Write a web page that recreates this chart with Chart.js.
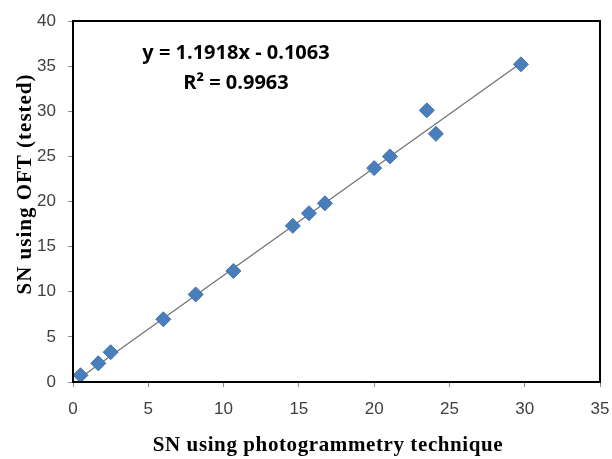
<!DOCTYPE html>
<html>
<head>
<meta charset="utf-8">
<script src="https://cdn.jsdelivr.net/npm/chart.js@4/dist/chart.umd.min.js"></script>
<style>
  html, body { margin: 0; padding: 0; background: #fff; }
  #wrap { width: 612px; height: 459px; }
</style>
</head>
<body>
<div id="wrap"><canvas id="chartCanvas" width="612" height="459"></canvas></div>
<script>
// values
const photogrammetrySN = [0.5, 1.68, 2.5, 6.0, 8.15, 10.65, 14.6, 15.67, 16.73, 20.0, 21.05, 23.5, 24.1, 29.75];
const oftSN = [0.75, 2.07, 3.3, 6.95, 9.7, 12.3, 17.3, 18.7, 19.8, 23.7, 25.0, 30.1, 27.5, 35.2];
// trendline ends, as drawn in the picture
const trendX = [0.5, 29.75];
const trendY = [0.49, 35.35];
const equationLines = ['y = 1.1918x - 0.1063', 'R\u00b2 = 0.9963'];
const xTitle = 'SN using photogrammetry technique';
const yTitle = 'SN using OFT (tested)';
const xTicks = [0, 5, 10, 15, 20, 25, 30, 35];
const yTicks = [0, 5, 10, 15, 20, 25, 30, 35, 40];

const points = photogrammetrySN.map((x, i) => ({ x: x, y: oftSN[i] }));
const trend = trendX.map((x, i) => ({ x: x, y: trendY[i] }));

const tickFont = { family: '"Liberation Sans Narrow", "Liberation Sans", sans-serif', size: 17 };

const framePlugin = {
    id: 'frame',
    afterDraw(chart) {
        const a = chart.chartArea;
        const c = chart.ctx;
        c.save();
        c.strokeStyle = '#000';
        c.lineWidth = 2;
        c.strokeRect(a.left, a.top, a.right - a.left, a.bottom - a.top);

        // equation label
        c.fillStyle = '#000';
        c.font = 'bold 20px "Open Sans", sans-serif';
        c.textAlign = 'center';
        c.textBaseline = 'middle';
        c.fillText(equationLines[0], 236, 53);
        c.fillText(equationLines[1], 236, 83);

        // axis titles
        c.font = 'bold 21px "Liberation Serif", serif';
        c.letterSpacing = '0.6px';
        c.fillText(xTitle, 328, 446);
        c.translate(26, 184);
        c.rotate(-Math.PI / 2);
        c.letterSpacing = '1px';
        c.fillText(yTitle, 0, 0);
        c.restore();
    }
};

const ctx = document.getElementById('chartCanvas').getContext('2d');
const chart = new Chart(ctx, {
    type: 'scatter',
    data: {
        datasets: [{
            label: 'trend',
            data: trend,
            showLine: true,
            borderColor: '#707070',
            borderWidth: 1.2,
            pointRadius: 0,
            order: 2
        }, {
            label: 'SN',
            data: points,
            pointStyle: 'rectRot',
            pointRadius: 7.5,
            backgroundColor: '#4a7ebb',
            borderColor: '#4072b0',
            borderWidth: 1,
            order: 1
        }]
    },
    options: {
        responsive: false,
        animation: false,
        layout: { padding: { top: 21, right: 12, left: 0, bottom: 0 } },
        plugins: {
            legend: { display: false },
            tooltip: { enabled: false }
        },
        scales: {
            x: {
                type: 'linear',
                min: 0,
                max: 35,
                afterBuildTicks: (s) => { s.ticks = xTicks.map(v => ({ value: v })); },
                afterFit: (s) => { s.height = 77; s.paddingLeft = 0; s.paddingRight = 0; },
                grid: { drawOnChartArea: false, tickLength: 5, color: '#8c8c8c' },
                border: { color: '#000', width: 2 },
                ticks: { color: '#404040', font: tickFont, padding: 12 }
            },
            y: {
                type: 'linear',
                min: 0,
                max: 40,
                afterBuildTicks: (s) => { s.ticks = yTicks.map(v => ({ value: v })); },
                afterFit: (s) => { s.width = 73; s.paddingTop = 0; s.paddingBottom = 0; },
                grid: { drawOnChartArea: false, tickLength: 5, color: '#8c8c8c' },
                border: { color: '#000', width: 2 },
                ticks: { color: '#404040', font: tickFont, padding: 12 }
            }
        }
    },
    plugins: [framePlugin]
});
</script>
</body>
</html>
